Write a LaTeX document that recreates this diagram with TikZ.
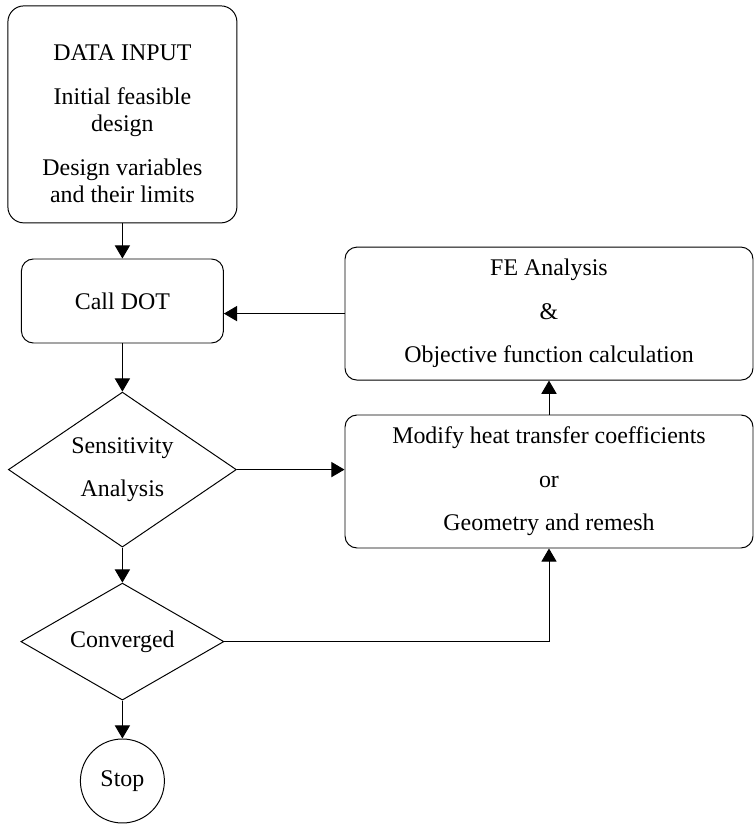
\documentclass[tikz,border=0pt]{standalone}
\usepackage{fontspec}
\setmainfont{Liberation Serif}
\usepackage{tikz}
\usetikzlibrary{shapes,arrows.meta,positioning,calc}

\begin{document}
\begin{tikzpicture}[
    block/.style={rectangle, draw, line width=0.7pt, rounded corners=0.3cm, align=center, inner sep=0pt, font=\fontsize{17}{20}\selectfont},
    decision/.style={diamond, draw, line width=0.7pt, aspect=1.5, inner sep=0pt, align=center, font=\fontsize{17}{20}\selectfont},
    terminal/.style={circle, draw, line width=0.7pt, minimum size=2.1cm, inner sep=0pt, font=\fontsize{17}{20}\selectfont},
    arrow/.style={-{Triangle[length=0.33cm, width=0.38cm]}, line width=0.7pt}
]
    \useasboundingbox (0,0) rectangle (18.9,20.6);

    % Left column
    \node[block, rounded corners=0.4cm, minimum width=5.725cm, minimum height=5.425cm, font=\fontsize{17}{19.2}\selectfont] (data) at (3.06,17.74)
        {\rule{0pt}{25pt}DATA INPUT\\[12pt] Initial feasible\\ design\\[12pt] Design variables\\ and their limits};
    \node[block, minimum width=5.05cm, minimum height=2.1cm] (call) at (3.06,13.075) {Call DOT};
    \node[decision, minimum width=5.7cm, minimum height=3.875cm] (sens) at (3.06,8.86) {Sensitivity\\[10pt] Analysis};
    \node[decision, aspect=1.7, minimum width=5.075cm, minimum height=2.925cm] (conv) at (3.06,4.56) {Converged};
    \node[terminal] (stop) at (3.06,1.075) {Stop};

    % Right column
    \node[block, minimum width=10.2cm, minimum height=3.325cm] (fe) at (13.725,12.76)
        {FE Analysis\\[11pt] \&\\[11pt] Objective function calculation};
    \node[block, minimum width=10.2cm, minimum height=3.325cm] (modify) at (13.725,8.5625)
        {Modify heat transfer coefficients\\[11pt] or\\[11pt] Geometry and remesh};

    % Connections
    \draw[arrow] (data) -- (call);
    \draw[arrow] (call) -- (sens);
    \draw[arrow] (sens) -- (conv);
    \draw[arrow] (conv) -- (stop);
    \draw[arrow] (fe.west) -- (fe.west -| call.east);
    \draw[arrow] (sens.east) -- (sens.east -| modify.west);
    \draw[arrow] (modify) -- (fe);
    \draw[arrow] (conv.east) -| (modify.south);
\end{tikzpicture}
\end{document}
